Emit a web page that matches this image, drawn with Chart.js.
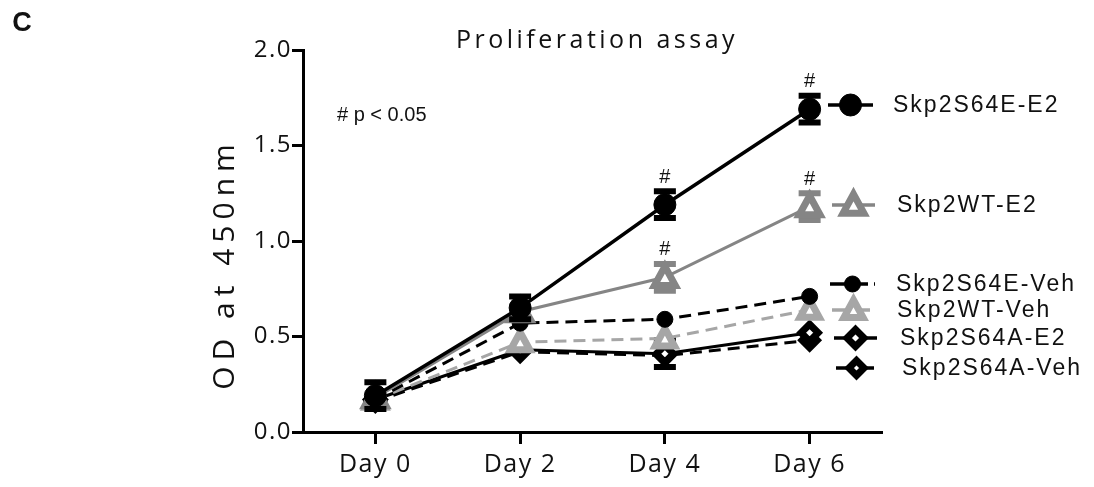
<!DOCTYPE html>
<html>
<head>
<meta charset="utf-8">
<script src="https://cdn.jsdelivr.net/npm/chart.js@4/dist/chart.umd.min.js"></script>
<style>
  html, body { margin: 0; padding: 0; background: #fff; }
</style>
</head>
<body>
<canvas id="prolifChart" width="1094" height="487"></canvas>
<script>
// x positions (days) and labels
const days = [0, 2, 4, 6];
const dayLabels = ['Day 0', 'Day 2', 'Day 4', 'Day 6'];

// series names, in legend order
const seriesNames = ['Skp2S64E-E2', 'Skp2WT-E2', 'Skp2S64E-Veh', 'Skp2WT-Veh', 'Skp2S64A-E2', 'Skp2S64A-Veh'];

// mean OD values
const s64eE2 = [0.19, 0.65, 1.19, 1.69];
const wtE2 = [0.18, 0.63, 0.81, 1.18];
const s64eVeh = [0.17, 0.57, 0.59, 0.71];
const wtVeh = [0.17, 0.47, 0.49, 0.64];
const s64aE2 = [0.17, 0.43, 0.41, 0.52];
const s64aVeh = [0.16, 0.42, 0.40, 0.48];

// error bars (0 = hidden behind symbol)
const s64eE2Err = [0.07, 0.06, 0.07, 0.07];
const wtE2Err = [0, 0, 0.07, 0.07];
const s64eVehErr = [0, 0, 0, 0];
const wtVehErr = [0, 0, 0, 0];
const s64aE2Err = [0, 0, 0.07, 0];
const s64aVehErr = [0, 0, 0, 0];

// significance marks: [series index, day index]
const sigMarks = [[0, 2], [0, 3], [1, 2], [1, 3]];

const GRAY = '#858585';
const LIGHT = '#a6a6a6';

const styles = [
  { color: '#000', dash: [], lw: 3.5, shape: 'circle', r: 11, fill: '#000', bw: 1 },
  { color: GRAY, dash: [], lw: 3, shape: 'triangle', r: 13, fill: '#fff', bw: 7 },
  { color: '#000', dash: [12, 7], lw: 3, shape: 'circle', r: 8, fill: '#000', bw: 1 },
  { color: LIGHT, dash: [12, 7], lw: 3, shape: 'triangle', r: 12, fill: '#fff', bw: 7 },
  { color: '#000', dash: [], lw: 3, shape: 'rectRot', r: 12, fill: '#fff', bw: 7 },
  { color: '#000', dash: [12, 7], lw: 3, shape: 'rectRot', r: 11, fill: '#fff', bw: 7 },
];

const allValues = [s64eE2, wtE2, s64eVeh, wtVeh, s64aE2, s64aVeh];
const allErrors = [s64eE2Err, wtE2Err, s64eVehErr, wtVehErr, s64aE2Err, s64aVehErr];

// legend row positions (layout only)
const legendRows = [
  { y: 105, x0: 828, x1: 873, tx: 893 },
  { y: 205, x0: 832, x1: 875, tx: 897 },
  { y: 284, x0: 830, x1: 875, tx: 896 },
  { y: 310, x0: 832, x1: 875, tx: 897 },
  { y: 338, x0: 834, x1: 877, tx: 900 },
  { y: 368, x0: 836, x1: 877, tx: 902 },
];

function drawMarker(ctx, st, x, y) {
  ctx.save();
  ctx.setLineDash([]);
  ctx.fillStyle = st.fill;
  ctx.strokeStyle = st.color;
  ctx.lineWidth = st.bw;
  ctx.lineJoin = 'miter';
  ctx.beginPath();
  const r = st.r;
  if (st.shape === 'circle') {
    ctx.arc(x, y, r, 0, Math.PI * 2);
    ctx.fillStyle = st.color;
  } else if (st.shape === 'triangle') {
    const h = r * 0.55;
    ctx.moveTo(x, y - r + h * 0.3);
    ctx.lineTo(x + r * 0.8, y + h + 1);
    ctx.lineTo(x - r * 0.8, y + h + 1);
  } else {
    const q = r - st.bw / 2;
    ctx.moveTo(x, y - q);
    ctx.lineTo(x + q, y);
    ctx.lineTo(x, y + q);
    ctx.lineTo(x - q, y);
  }
  ctx.closePath();
  ctx.fill();
  ctx.stroke();
  ctx.restore();
}

const spacingPlugin = {
  id: 'spacing',
  beforeUpdate(chart) { chart.ctx.letterSpacing = '1.5px'; },
  beforeDraw(chart) { chart.ctx.letterSpacing = '1.5px'; },
};

const errorBarPlugin = {
  id: 'errorBars',
  beforeDatasetDraw(chart, args) {
    const i = args.index;
    const errs = allErrors[i];
    const vals = allValues[i];
    const ys = chart.scales.y, xs = chart.scales.x;
    const ctx = chart.ctx;
    ctx.save();
    ctx.setLineDash([]);
    ctx.strokeStyle = styles[i].color;
    days.forEach((d, k) => {
      if (!errs[k]) return;
      const x = xs.getPixelForValue(d);
      const top = ys.getPixelForValue(vals[k] + errs[k]);
      const bot = ys.getPixelForValue(vals[k] - errs[k]);
      ctx.lineWidth = 3;
      ctx.beginPath();
      ctx.moveTo(x, top); ctx.lineTo(x, bot);
      ctx.stroke();
      ctx.lineWidth = 6;
      ctx.beginPath();
      ctx.moveTo(x - 11, top); ctx.lineTo(x + 11, top);
      ctx.moveTo(x - 11, bot); ctx.lineTo(x + 11, bot);
      ctx.stroke();
    });
    ctx.restore();
  },
  afterDatasetDraw(chart, args) {
    const i = args.index;
    const ys = chart.scales.y, xs = chart.scales.x;
    days.forEach((d, k) => {
      drawMarker(chart.ctx, styles[i], xs.getPixelForValue(d), ys.getPixelForValue(allValues[i][k]));
    });
  },
};

const textPlugin = {
  id: 'texts',
  afterDraw(chart) {
    const ctx = chart.ctx;
    const ys = chart.scales.y, xs = chart.scales.x;
    ctx.save();
    ctx.fillStyle = '#111';
    ctx.textAlign = 'center';
    ctx.textBaseline = 'middle';

    // panel letter
    ctx.letterSpacing = '0px';
    ctx.font = 'bold 27px "Liberation Sans", Arial, sans-serif';
    ctx.fillText('C', 22, 24);

    // title
    ctx.letterSpacing = '3.5px';
    ctx.font = '25px "Open Sans", sans-serif';
    ctx.fillText('Proliferation assay', 597, 41);

    // y title
    ctx.save();
    ctx.translate(225, 267);
    ctx.rotate(-Math.PI / 2);
    ctx.letterSpacing = '6px';
    ctx.font = '30px "Open Sans", sans-serif';
    ctx.fillText('OD at 450nm', 3, 0);
    ctx.restore();

    // p-value note
    ctx.letterSpacing = '0px';
    ctx.textAlign = 'left';
    ctx.font = '20px "Liberation Sans", Arial, sans-serif';
    ctx.fillText('# p < 0.05', 337, 115);

    // significance marks
    ctx.textAlign = 'center';
    sigMarks.forEach(([s, k]) => {
      const x = xs.getPixelForValue(days[k]);
      const y = ys.getPixelForValue(allValues[s][k] + allErrors[s][k]) - 14;
      ctx.fillText('#', x, y);
    });

    // legend
    legendRows.forEach((row, i) => {
      const st = styles[i];
      ctx.save();
      ctx.strokeStyle = st.color;
      ctx.lineWidth = 3.5;
      ctx.setLineDash(st.dash.length ? [16, 6] : []);
      ctx.beginPath();
      ctx.moveTo(row.x0, row.y); ctx.lineTo(row.x1, row.y);
      ctx.stroke();
      ctx.restore();
      drawMarker(ctx, st, (row.x0 + row.x1) / 2, row.y);
      ctx.textAlign = 'left';
      ctx.letterSpacing = '2px';
      ctx.font = '23px "Liberation Sans", Arial, sans-serif';
      ctx.fillStyle = '#111';
      ctx.fillText(seriesNames[i], row.tx, row.y + 1);
    });
    ctx.restore();
  },
};

const datasets = allValues.map((vals, i) => ({
  label: seriesNames[i],
  data: days.map((d, k) => ({ x: d, y: vals[k] })),
  borderColor: styles[i].color,
  borderWidth: styles[i].lw,
  borderDash: styles[i].dash,
  pointRadius: 0,
  fill: false,
  tension: 0,
}));

new Chart(document.getElementById('prolifChart'), {
  type: 'line',
  data: { datasets: datasets },
  options: {
    responsive: false,
    animation: false,
    devicePixelRatio: 1,
    layout: { padding: { left: 0, right: 212, top: 50, bottom: 0 } },
    plugins: { legend: { display: false }, title: { display: false }, tooltip: { enabled: false } },
    scales: {
      x: {
        type: 'linear',
        min: -1,
        max: 7,
        afterBuildTicks: (scale) => { scale.ticks = days.map((d) => ({ value: d })); },
        afterFit: (scale) => { scale.height = 55; },
        ticks: {
          callback: (v) => dayLabels[days.indexOf(v)],
          color: '#111',
          font: { family: '"Open Sans", sans-serif', size: 25 },
          padding: 6,
          maxRotation: 0,
          autoSkip: false,
        },
        grid: { drawOnChartArea: false, drawTicks: true, tickLength: 12, tickWidth: 3, color: '#000' },
        border: { display: true, color: '#000', width: 3 },
      },
      y: {
        min: 0,
        max: 2,
        afterFit: (scale) => { scale.width = 303; },
        ticks: {
          stepSize: 0.5,
          callback: (v) => v.toFixed(1),
          color: '#111',
          font: { family: '"Open Sans", sans-serif', size: 24 },
          padding: 0,
        },
        grid: { drawOnChartArea: false, drawTicks: true, tickLength: 11, tickWidth: 3, color: '#000' },
        border: { display: true, color: '#000', width: 3 },
      },
    },
  },
  plugins: [spacingPlugin, errorBarPlugin, textPlugin],
});
</script>
</body>
</html>
